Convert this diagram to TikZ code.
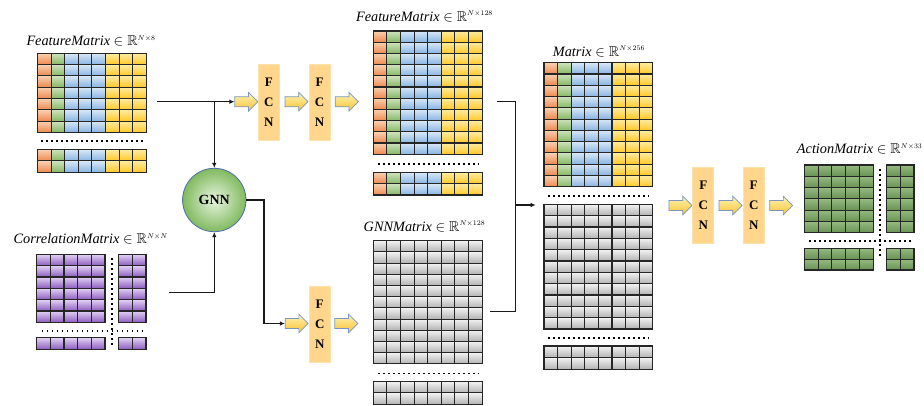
\documentclass[tikz,border=0pt]{standalone}
\usepackage{amssymb}
\usepackage{fontspec}
\setmainfont{Liberation Serif}
\usetikzlibrary{shapes.arrows,arrows.meta}

\definecolor{orngT}{RGB}{250,208,176}
\definecolor{orngB}{RGB}{237,137,78}
\definecolor{grnT}{RGB}{205,227,188}
\definecolor{grnB}{RGB}{134,184,100}
\definecolor{bluT}{RGB}{216,232,248}
\definecolor{bluB}{RGB}{136,180,226}
\definecolor{ylwT}{RGB}{255,236,160}
\definecolor{ylwB}{RGB}{255,200,40}
\definecolor{prpT}{RGB}{226,210,244}
\definecolor{prpB}{RGB}{140,92,190}
\definecolor{gryT}{RGB}{242,242,242}
\definecolor{gryB}{RGB}{178,178,178}
\definecolor{actM}{RGB}{150,186,128}
\definecolor{actL}{RGB}{224,238,216}
\definecolor{actD}{RGB}{104,146,84}
\definecolor{fcnfill}{RGB}{255,214,140}
\definecolor{fcnline}{RGB}{250,226,170}
\definecolor{arrT}{RGB}{255,242,180}
\definecolor{arrB}{RGB}{248,196,50}
\definecolor{arrline}{RGB}{120,150,190}
\definecolor{gnnL}{RGB}{232,244,224}
\definecolor{gnnD}{RGB}{128,186,94}
\definecolor{gnnline}{RGB}{80,110,170}

%% one block of cells: x, y, cell width, cell height, rows, column styles
\newcommand{\cellgrid}[6]{%
  \foreach \cs [count=\ci from 0] in {#6}{%
    \foreach \ri in {1,...,#5}{%
      \path[cell,\cs] ({#1+\ci*#3},{#2+(\ri-1)*#4}) rectangle +(#3,#4);
    }%
  }%
}

\begin{document}
\begin{tikzpicture}%
	[x=1pt, y=-1pt,
	cell/.style={draw=black!85, line width=1.1pt},
	orng/.style={top color=orngT, bottom color=orngB},
	grn/.style={top color=grnT, bottom color=grnB},
	blu/.style={top color=bluT, bottom color=bluB},
	ylw/.style={top color=ylwT, bottom color=ylwB},
	prp/.style={top color=prpT, bottom color=prpB},
	gry/.style={top color=gryT, bottom color=gryB},
	act/.style={top color=actM, middle color=actL, bottom color=actD},
	dots/.style={line width=1.6pt, dash pattern=on 1.6pt off 3.4pt},
	lbl/.style={anchor=base, inner sep=0pt, font=\fontsize{14.3}{16}\selectfont},
	fcn/.style={draw=fcnline, fill=fcnfill, line width=0.8pt, minimum width=21pt,
		minimum height=76pt, inner sep=0pt, align=center,
		font=\fontsize{13}{20}\selectfont\bfseries},
	blockarrow/.style={single arrow, draw=arrline, line width=0.7pt,
		top color=arrT, bottom color=arrB, minimum height=23pt,
		inner xsep=0pt, inner ysep=4.7pt,
		single arrow head extend=4.3pt, single arrow head indent=0pt},
	gnnball/.style={circle, draw=gnnline, line width=0.8pt, inner color=gnnL,
		outer color=gnnD, minimum size=63.4pt, inner sep=0pt,
		font=\fontsize{14}{16}\selectfont\bfseries},
	conn/.style={draw=black!90, line width=1.2pt},
	tip/.style={-{Latex[length=5pt,width=4.5pt]}}]
\useasboundingbox (0,0) rectangle (924,405);
%%
%% Labels
%%
\node[lbl] (lbl-feat) at (91,45.7) {\textit{FeatureMatrix} $\in\mathbb{R}^{\scriptscriptstyle N\times 8}$};
\node[lbl] (lbl-corr) at (90.8,243.3) {\textit{CorrelationMatrix} $\in\mathbb{R}^{\scriptscriptstyle N\times N}$};
\node[lbl] (lbl-feat128) at (424.5,21) {\textit{FeatureMatrix} $\in\mathbb{R}^{\scriptscriptstyle N\times 128}$};
\node[lbl] (lbl-gnnm) at (424.5,231) {\textit{GNNMatrix} $\in\mathbb{R}^{\scriptscriptstyle N\times 128}$};
\node[lbl] (lbl-mat) at (599,56) {\textit{Matrix} $\in\mathbb{R}^{\scriptscriptstyle N\times 256}$};
\node[lbl] (lbl-act) at (859.7,153.5) {\textit{ActionMatrix} $\in\mathbb{R}^{\scriptscriptstyle N\times 33}$};
%%
%% Input feature matrix
%%
\cellgrid{37.5}{53.3}{13.6}{11.3}{7}{orng,grn,blu,blu,blu,ylw,ylw,ylw}
\draw[dots] (41,141) -- (143,141);
\cellgrid{37.5}{149.5}{13.6}{11.4}{2}{orng,grn,blu,blu,blu,ylw,ylw,ylw}
%%
%% Correlation matrix
%%
\cellgrid{36.7}{254.3}{13.66}{11.33}{6}{prp,prp,prp,prp,prp}
\cellgrid{118.3}{254.3}{13.85}{11.33}{6}{prp,prp}
\draw[dots] (111.7,258) -- (111.7,346.7);
\draw[dots] (41.7,330.7) -- (143.3,330.7);
\cellgrid{36.7}{337.7}{13.66}{11.6}{1}{prp,prp,prp,prp,prp}
\cellgrid{118.3}{337.7}{13.85}{11.6}{1}{prp,prp}
%%
%% Feature matrix after FCN
%%
\cellgrid{373.3}{31}{13.6}{11.2}{11}{orng,grn,blu,blu,blu,ylw,ylw,ylw}
\draw[dots] (378,164) -- (479,164);
\cellgrid{373.3}{172.3}{13.6}{11.35}{2}{orng,grn,blu,blu,blu,ylw,ylw,ylw}
%%
%% GNN matrix
%%
\cellgrid{373.3}{240.7}{13.6}{11.2}{11}{gry,gry,gry,gry,gry,gry,gry,gry}
\draw[dots] (378,373.3) -- (479,373.3);
\cellgrid{373.3}{381.7}{13.6}{11.2}{2}{gry,gry,gry,gry,gry,gry,gry,gry}
%%
%% Concatenated matrix
%%
\cellgrid{544}{62.7}{13.6}{11.27}{11}{orng,grn,blu,blu,blu,ylw,ylw,ylw}
\draw[dots] (548,195.7) -- (649,195.7);
\cellgrid{544}{204.3}{13.6}{11.34}{11}{gry,gry,gry,gry,gry,gry,gry,gry}
\draw[dots] (548,337.7) -- (649,337.7);
\cellgrid{544}{346}{13.6}{11.65}{2}{gry,gry,gry,gry,gry,gry,gry,gry}
%%
%% Action matrix
%%
\cellgrid{804.3}{165}{13.8}{11.28}{6}{act,act,act,act,act}
\cellgrid{886.7}{165}{13.65}{11.28}{6}{act,act}
\draw[dots] (880,169.3) -- (880,256.7);
\draw[dots] (809,241) -- (911.7,241);
\cellgrid{804.3}{248.3}{13.8}{10.85}{2}{act,act,act,act,act}
\cellgrid{886.7}{248.3}{13.65}{10.85}{2}{act,act}
%%
%% FCN blocks and block arrows
%%
\node[blockarrow] (a1) at (243.8,101.7) {};
\node[fcn] (fcn1) at (268.8,102) {F\\C\\N};
\node[blockarrow] (a2) at (294,101.7) {};
\node[fcn] (fcn2) at (319.5,102) {F\\C\\N};
\node[blockarrow] (a3) at (344.3,101.7) {};
\node[blockarrow] (a4) at (294.2,323.5) {};
\node[fcn] (fcn3) at (319.7,324) {F\\C\\N};
\node[blockarrow] (a5) at (343.8,323.5) {};
\node[blockarrow] (a6) at (678,205.5) {};
\node[fcn] (fcn4) at (703.3,205) {F\\C\\N};
\node[blockarrow] (a7) at (728,205.5) {};
\node[fcn] (fcn5) at (753.7,205) {F\\C\\N};
\node[blockarrow] (a8) at (778.7,205.5) {};
%%
%% GNN
%%
\node[gnnball] (gnn) at (214.3,200) {GNN};
%%
%% Connectors
%%
\coordinate (feat-out) at (157,101.7);
\coordinate (corr-out) at (169.3,292.3);
\coordinate (gnn-turn) at (264,200);
\coordinate (feat128-out) at (496.7,101.7);
\coordinate (gnnm-out) at (490,311.7);
\coordinate (merge) at (515.7,205);
\coordinate (mat-in) at (535.7,205);
\draw[conn,tip] (feat-out) -- (a1.west);
\draw[conn,tip] (feat-out -| gnn) -- (gnn.north);
\draw[conn,tip] (corr-out) -| (gnn.south);
\draw[conn,tip] (gnn.east) -- (gnn-turn) |- (a4.west);
\draw[conn] (feat128-out) -| (merge) |- (gnnm-out);
\draw[conn,tip] (merge) -- (mat-in);
%%
\end{tikzpicture}
\end{document}
